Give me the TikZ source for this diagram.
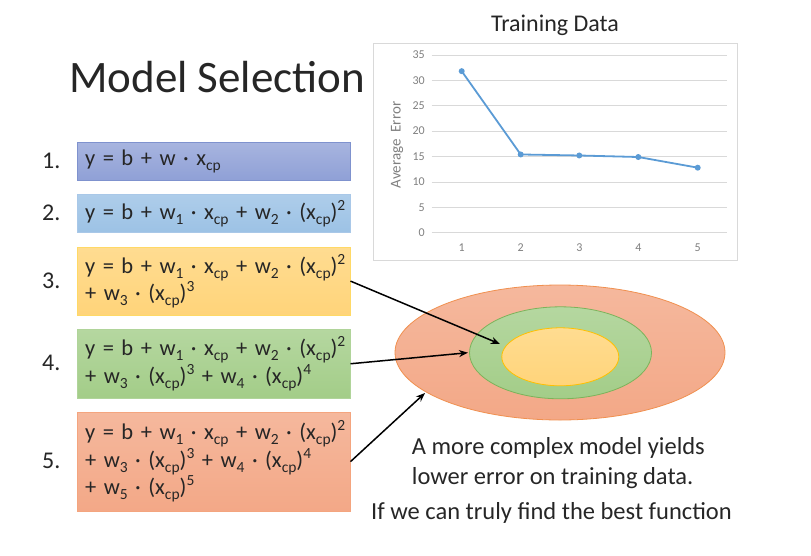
\documentclass[tikz,border=0pt]{standalone}
\usepackage{fontspec}
\setmainfont{Carlito}
\newfontfamily\eqfont[WordSpace=0.45]{Carlito}
\usetikzlibrary{arrows.meta,shapes.geometric}
\definecolor{boxA}{HTML}{8FA0D6}
\definecolor{boxAtop}{HTML}{A7B4DF}
\definecolor{boxAline}{HTML}{7F92CE}
\definecolor{boxB}{HTML}{9CC2E5}
\definecolor{boxBtop}{HTML}{AECDEA}
\definecolor{boxBline}{HTML}{A9C8E8}
\definecolor{boxC}{HTML}{FFD47A}
\definecolor{boxCtop}{HTML}{FFDC91}
\definecolor{boxCline}{HTML}{FFD966}
\definecolor{boxD}{HTML}{A3CD88}
\definecolor{boxDtop}{HTML}{B5D7A0}
\definecolor{boxDline}{HTML}{B0D49A}
\definecolor{boxE}{HTML}{F3A887}
\definecolor{boxEtop}{HTML}{F5B89D}
\definecolor{boxEline}{HTML}{F4A57F}
\definecolor{ellOline}{HTML}{F0904F}
\definecolor{ellGline}{HTML}{7CB35A}
\definecolor{ellYline}{HTML}{FFC000}
\definecolor{gridc}{HTML}{D9D9D9}
\definecolor{tickc}{HTML}{7F7F7F}
\definecolor{linec}{HTML}{5B9BD5}
\definecolor{txt}{HTML}{262626}
\newcommand{\mysub}[1]{\raisebox{-0.22em}{\fontsize{15.5}{16}\selectfont #1}}
\newcommand{\mysup}[1]{\raisebox{0.4em}{\fontsize{15.5}{16}\selectfont #1}}
\begin{document}
\begin{tikzpicture}[x=1pt,y=-1pt,
  eqbox/.style={draw, line width=0.8pt, anchor=north west, minimum width=273pt,
    text width=257pt, inner xsep=8pt, inner ysep=0pt, align=left, text=txt,
    font=\eqfont\fontsize{22.5}{27.5}\selectfont},
  numlab/.style={anchor=east, text=txt, font=\fontsize{24}{28}\selectfont},
  gridline/.style={draw=gridc, line width=0.6pt},
  ticklab/.style={text=tickc, font=\fontsize{12}{14}\selectfont, inner sep=1pt},
  dataline/.style={draw=linec, line width=1.8pt, line join=round},
  datapt/.style={circle, fill=linec, inner sep=0pt, minimum size=6pt},
  pointer/.style={draw=black, line width=1.5pt, -{Stealth[length=9pt,width=7pt]}},
  setell/.style={ellipse, inner sep=0pt, line width=0.8pt},
  bigtext/.style={text=txt, font=\fontsize{24.5}{30}\selectfont, inner sep=0pt}
]
\useasboundingbox (0,0) rectangle (811,555);

% title
\node[anchor=west, text=txt, font=\fontsize{45}{54}\selectfont, inner sep=0pt] (title) at (69,77) {Model Selection};

% chart
\node[text=txt, font=\fontsize{24}{28}\selectfont, inner sep=0pt] (ctitle) at (555,25) {Training Data};
\draw[draw=gridc, line width=0.8pt] (373,43) rectangle (737,260);
\foreach \v in {0,5,...,35} {
  \draw[gridline] (431.7,{232.7-\v*5.08}) -- (727,{232.7-\v*5.08});
  \node[ticklab, anchor=east] at (426,{232.7-\v*5.08}) {\v};
}
\foreach \i/\xx in {1/461.7,2/520.7,3/579.3,4/638.3,5/697.7} {
  \node[ticklab] at (\xx,248) {\i};
}
\node[rotate=90, text=tickc, font=\fontsize{15}{18}\selectfont, inner sep=0pt] (ylab) at (397,145) {Average\ \ Error};
\node[datapt] (p1) at (461.7,{232.7-31.8*5.08}) {};
\node[datapt] (p2) at (520.7,{232.7-15.4*5.08}) {};
\node[datapt] (p3) at (579.3,{232.7-15.2*5.08}) {};
\node[datapt] (p4) at (638.3,{232.7-14.9*5.08}) {};
\node[datapt] (p5) at (697.7,{232.7-12.8*5.08}) {};
\draw[dataline] (p1.center) -- (p2.center) -- (p3.center) -- (p4.center) -- (p5.center);

% equation boxes
\node[eqbox, draw=boxAline, top color=boxAtop, bottom color=boxA, minimum height=37.7pt] (b1) at (76.7,142.3)
  {\mbox{y = b + w · x\mysub{cp}}};
\node[eqbox, draw=boxBline, top color=boxBtop, bottom color=boxB, minimum height=38.3pt] (b2) at (76.7,194)
  {\mbox{y = b + w\mysub{1} · x\mysub{cp} + w\mysub{2} · (x\mysub{cp})\mysup{2}}};
\node[eqbox, draw=boxCline, top color=boxCtop, bottom color=boxC, minimum height=68pt] (b3) at (76.7,246.7)
  {\mbox{y = b + w\mysub{1} · x\mysub{cp} + w\mysub{2} · (x\mysub{cp})\mysup{2}}\\
   \mbox{+ w\mysub{3} · (x\mysub{cp})\mysup{3}}};
\node[eqbox, draw=boxDline, top color=boxDtop, bottom color=boxD, minimum height=68.7pt] (b4) at (76.7,329)
  {\mbox{y = b + w\mysub{1} · x\mysub{cp} + w\mysub{2} · (x\mysub{cp})\mysup{2}}\\
   \mbox{+ w\mysub{3} · (x\mysub{cp})\mysup{3} + w\mysub{4} · (x\mysub{cp})\mysup{4}}};
\node[eqbox, draw=boxEline, top color=boxEtop, bottom color=boxE, minimum height=99pt] (b5) at (76.7,411.7)
  {\mbox{y = b + w\mysub{1} · x\mysub{cp} + w\mysub{2} · (x\mysub{cp})\mysup{2}}\\
   \mbox{+ w\mysub{3} · (x\mysub{cp})\mysup{3} + w\mysub{4} · (x\mysub{cp})\mysup{4}}\\
   \mbox{+ w\mysub{5} · (x\mysub{cp})\mysup{5}}};

\node[numlab] (n1) at (64,161) {1.};
\node[numlab] (n2) at (64,213) {2.};
\node[numlab] (n3) at (64,281) {3.};
\node[numlab] (n4) at (64,363) {4.};
\node[numlab] (n5) at (64,461) {5.};

% nested sets
\node[setell, draw=ellOline, top color=boxEtop, bottom color=boxE, minimum width=330pt, minimum height=135pt] (eo) at (560,352.5) {};
\node[setell, draw=ellGline, top color=boxDtop, bottom color=boxD, minimum width=182pt, minimum height=92pt] (eg) at (560.5,352.8) {};
\node[setell, draw=ellYline, top color=boxCtop, bottom color=boxC, minimum width=117pt, minimum height=58pt] (ey) at (560.3,356.8) {};

\coordinate (t3) at (500,344);
\coordinate (t4) at (468,352.7);
\coordinate (t5) at (425,393);
\draw[pointer] (b3.east) -- (t3);
\draw[pointer] (b4.east) -- (t4);
\draw[pointer] (b5.east) -- (t5);

\node[bigtext, anchor=west, align=left] (note) at (411.7,463) {A more complex model yields\\lower error on training data.};
\node[bigtext] (note2) at (551.5,513) {If we can truly find the best function};
\end{tikzpicture}
\end{document}
